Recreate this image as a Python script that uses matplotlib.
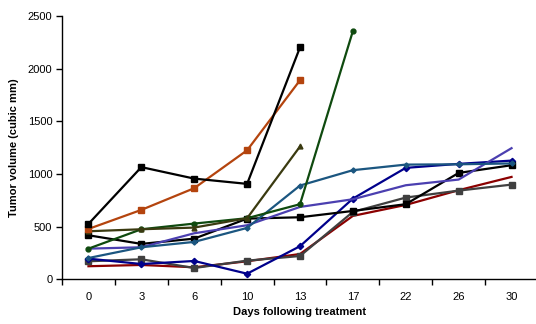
import numpy as np
import matplotlib
matplotlib.use("Agg")
import matplotlib.pyplot as plt

plt.rcParams['font.family'] = ['Liberation Sans', 'DejaVu Sans']

days = ["0", "3", "6", "10", "13", "17", "22", "26", "30"]

black_a  = [526, 1065, 956, 906, 2202]
orange   = [478, 659, 865, 1225, 1890]
olive    = [456, 475, 491, 580, 1261]
green    = [291, 475, 529, 580, 713, 2357]
teal     = [202, 304, 355, 488, 890, 1036, 1089, 1092, 1100]
purple   = [291, 304, 437, 513, 687, 760, 893, 947, 1245]
black_b  = [418, 336, 386, 576, 589, 649, 713, 1010, 1083]
gray     = [171, 190, 107, 177, 221, 640, 776, 842, 899]
navy     = [196, 145, 174, 53, 314, 766, 1058, 1096, 1127]
darkred  = [124, 136, 114, 171, 240, 602, 706, 846, 972]

fig = plt.figure(figsize=(5.36, 3.24), dpi=100)
ax = fig.add_axes([0.1157, 0.138, 0.888, 0.8126])

# (values, colour, marker, marker size)
series = [
    (darkred, "#8B0000", None, 0),
    (gray, "#404040", "s", 4),
    (navy, "#00008B", "D", 3.2),
    (black_b, "#000000", "s", 4),
    (purple, "#4B3FB0", None, 0),
    (teal, "#1B5680", "D", 2.6),
    (green, "#0F4A0F", "o", 3.5),
    (olive, "#3A3A10", "^", 3.5),
    (orange, "#B4440E", "s", 4),
    (black_a, "#000000", "s", 4),
]

for vals, col, mk, ms in series:
    x = np.arange(len(vals))
    ax.plot(x, vals, color=col, lw=1.6, marker=mk, ms=ms, mec=col, mfc=col)

ax.set_xlim(-0.5, 8.5)
ax.set_ylim(0, 2500)
ax.set_yticks(range(0, 2501, 500))
ax.set_xticks(range(len(days)))
ax.set_xticklabels(days)
ax.set_xticks(np.arange(-0.5, 8.6, 1), minor=True)
ax.tick_params(axis='x', which='major', length=0, pad=9, labelsize=8)
ax.tick_params(axis='x', which='minor', length=4, width=1)
ax.tick_params(axis='y', length=4, width=1, labelsize=8, pad=3)

for s in ['top', 'right']:
    ax.spines[s].set_visible(False)
for s in ['left', 'bottom']:
    ax.spines[s].set_linewidth(1)

ax.set_xlabel('Days following treatment', fontsize=8, fontweight='bold', labelpad=4)
ax.set_ylabel('Tumor volume (cubic mm)', fontsize=8, fontweight='bold', labelpad=6)

fig.savefig('out.png', dpi=100)
